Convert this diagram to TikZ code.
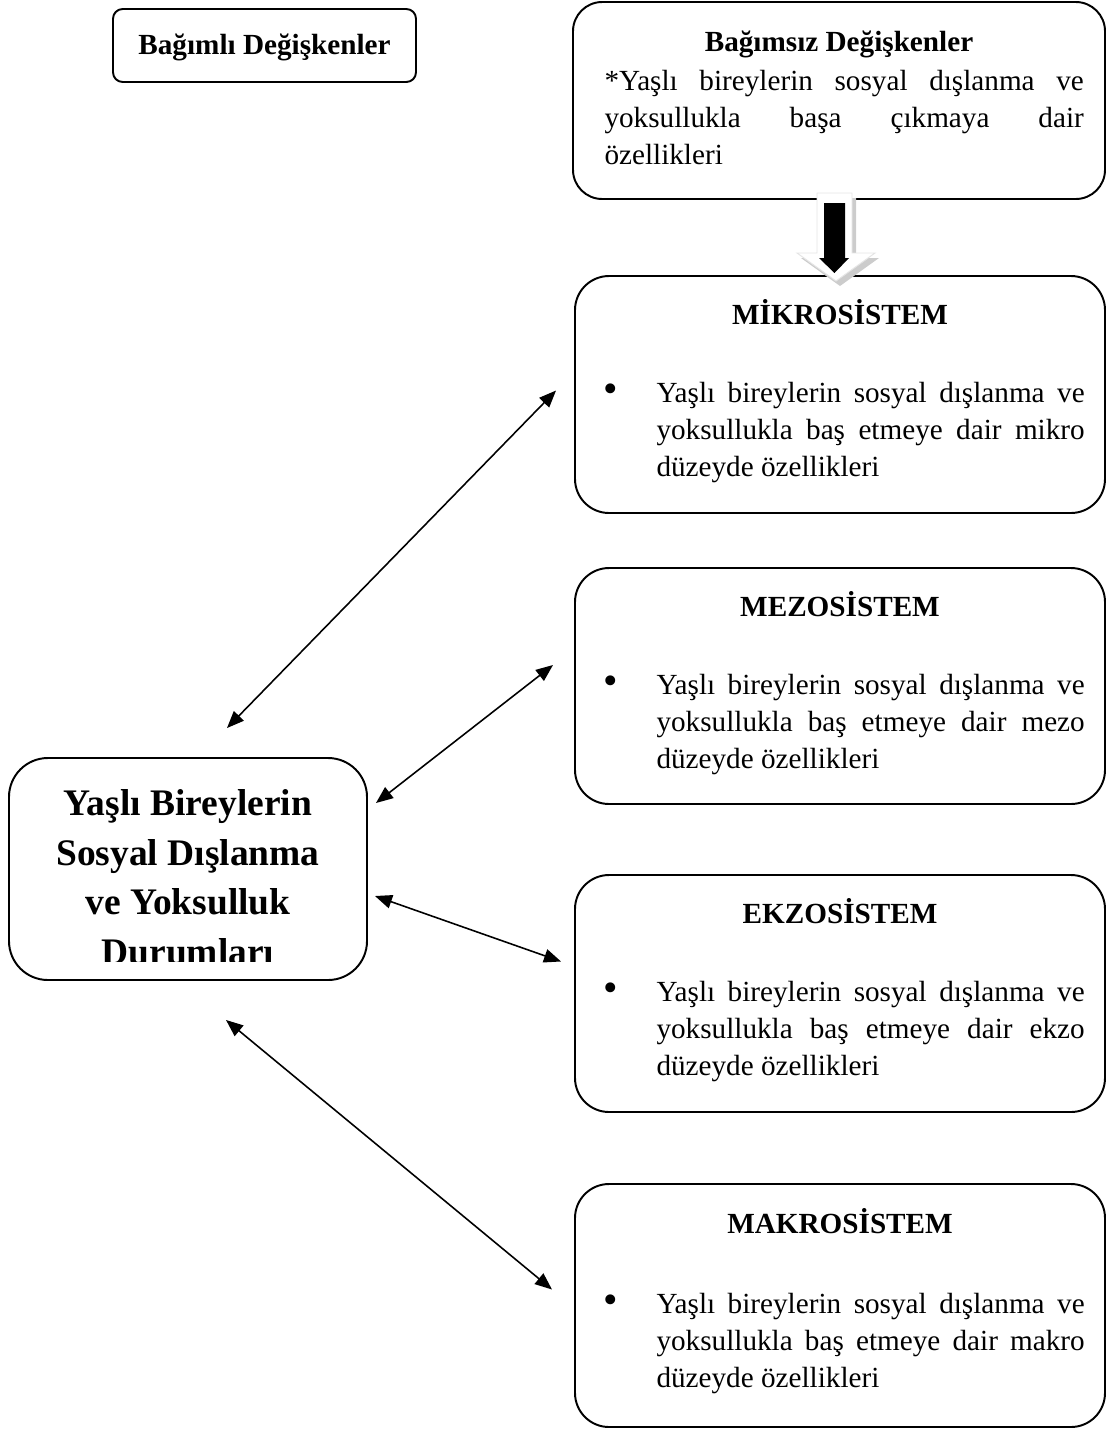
\documentclass[tikz,border=0pt]{standalone}
\usepackage{fontspec}
\setmainfont{Liberation Serif}
\usetikzlibrary{arrows.meta,calc,fit}
\tikzset{
    box/.style = {
        draw,
        line width=0.8pt,
        inner sep=0pt,
        rounded corners=14pt,
        },
    small box/.style = {
        box,
        rounded corners=4pt,
        },
    head/.style = {
        font=\fontsize{12}{15.2}\selectfont\bfseries,
        inner sep=0pt,
        anchor=base,
        },
    body/.style = {
        font=\fontsize{12}{15.2}\selectfont,
        inner sep=0pt,
        text width=176pt,
        align=justify,
        anchor=north west,
        },
    big/.style = {
        font=\fontsize{15.4}{20.4}\selectfont\bfseries,
        inner sep=0pt,
        align=center,
        anchor=north,
        },
    both/.style = {
        >={Triangle[length=7pt,width=5.6pt]},
        <->,
        line width=0.65pt,
        },
}
\newcommand{\madde}[1]{\tolerance=10000\noindent\llap{{\fontsize{17}{17}\selectfont\textbullet}\hspace{16pt}}\strut Yaşlı bireylerin sosyal dışlanma ve yoksullukla baş etmeye dair #1 düzeyde özellikleri}

\begin{document}
\begin{tikzpicture}[x=0.411pt, y=-0.411pt]
    \useasboundingbox (0,0) rectangle (1107,1429);

    % kutular
    \node[small box, fit={(113,9) (416,82)}] (dep) {};
    \node[box, rounded corners=12pt, fit={(573,2) (1105,199)}] (indep) {};
    \node[box, fit={(575,276) (1105,513)}] (mikro) {};
    \node[box, fit={(575,568) (1105,804)}] (mezo) {};
    \node[box, fit={(575,875) (1105,1112)}] (ekzo) {};
    \node[box, fit={(575,1184) (1105,1427)}] (makro) {};
    \node[box, rounded corners=16pt, fit={(9,758) (367,980)}] (durum) {};

    \node[head] (deptxt) at ($(dep.north)+(0,46)$) {Bağımlı Değişkenler};
    \node[head] (indeptxt) at ($(indep.north)+(0,50)$) {Bağımsız Değişkenler};
    \node[body, text width=197pt] (indepbody) at ($(indep.north west)+(32,63)$)
        {\tolerance=10000\noindent\strut *Yaşlı bireylerin sosyal dışlanma ve\linebreak yoksullukla başa çıkmaya dair\linebreak özellikleri};

    \node[head] (mikrotxt) at ($(mikro.north)+(0,49)$) {MİKROSİSTEM};
    \node[body] (mikrobody) at ($(mikro.north west)+(82,101)$) {\madde{mikro}};
    \node[head] (mezotxt) at ($(mezo.north)+(0,49)$) {MEZOSİSTEM};
    \node[body] (mezobody) at ($(mezo.north west)+(82,101)$) {\madde{mezo}};
    \node[head] (ekzotxt) at ($(ekzo.north)+(0,49)$) {EKZOSİSTEM};
    \node[body] (ekzobody) at ($(ekzo.north west)+(82,101)$) {\madde{ekzo}};
    \node[head] (makrotxt) at ($(makro.north)+(0,50)$) {MAKROSİSTEM};
    \node[body] (makrobody) at ($(makro.north west)+(82,104)$) {\madde{makro}};

    \begin{scope}
        \clip (9,758) rectangle (367,961);
        \node[big] (durumtxt) at ($(durum.north)+(0,32)$) {Yaşlı Bireylerin\\Sosyal Dışlanma\\ve Yoksulluk\\Durumları};
    \end{scope}

    % blok ok
    \fill[gray!40] (821,198) -- (856,198) -- (856,258) -- (879,258) -- (840,286) -- (801,258) -- (821,258) -- cycle;
    \filldraw[fill=white, draw=gray!20] (817,193) -- (852,193) -- (852,253) -- (875,253) -- (836,281) -- (797,253) -- (817,253) -- cycle;
    \fill (824,203) -- (845,203) -- (845,258) -- (849,258) -- (834.5,273) -- (819,258) -- (824,258) -- cycle;

    \coordinate (m1) at ($(mikro.west)+(-18,-4)$);
    \coordinate (d1) at ($(durum.north)+(39,-29)$);
    \coordinate (m2) at ($(mezo.west)+(-21,-21)$);
    \coordinate (d2) at ($(durum.east)+(8,-66)$);
    \coordinate (m3) at ($(ekzo.west)+(-13,-32)$);
    \coordinate (d3) at ($(durum.east)+(7,27)$);
    \coordinate (m4) at ($(makro.west)+(-22,-16)$);
    \coordinate (d4) at ($(durum.south)+(38,39)$);

    \draw[both] (d1) -- (m1);
    \draw[both] (d2) -- (m2);
    \draw[both] (d3) -- (m3);
    \draw[both] (d4) -- (m4);
\end{tikzpicture}
\end{document}
